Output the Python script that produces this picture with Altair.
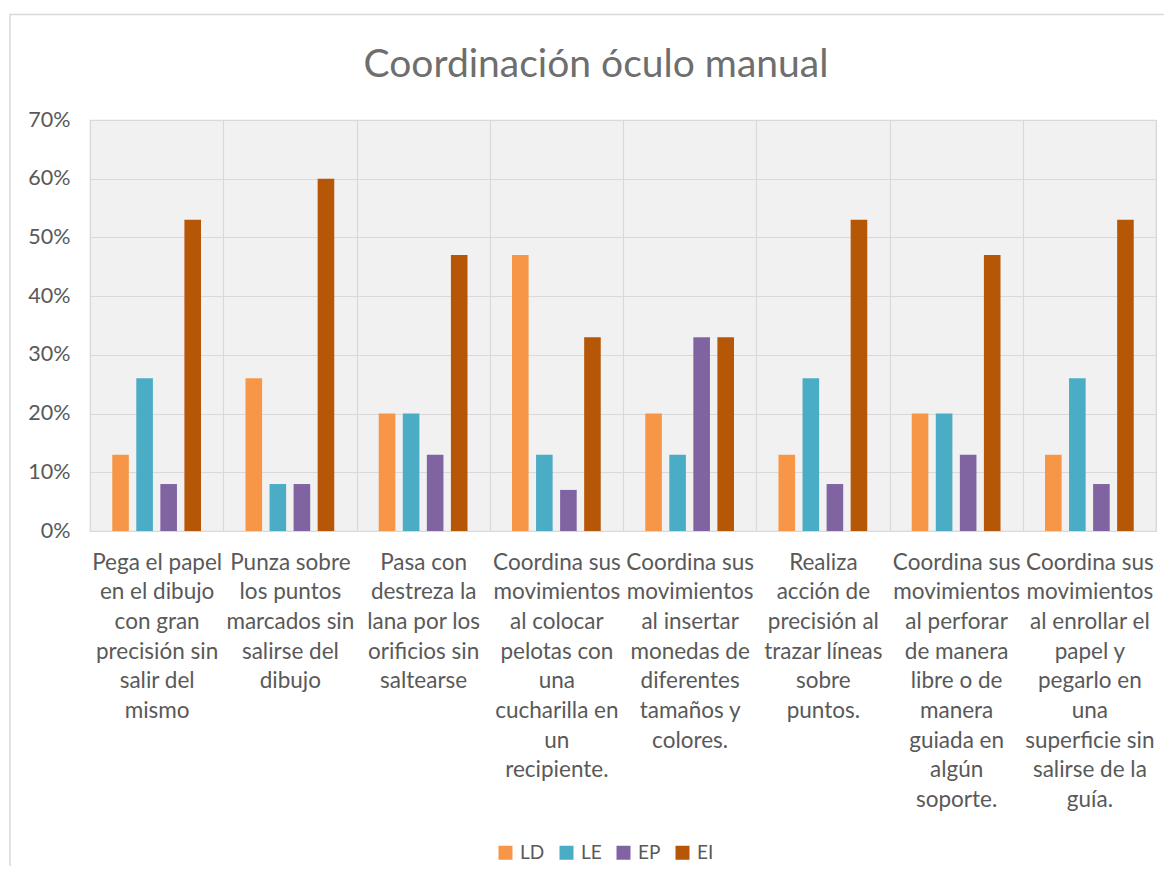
import altair as alt
import pandas as pd

categories = [
    "Pega el papel|en el dibujo|con gran|precisión sin|salir del|mismo",
    "Punza sobre|los puntos|marcados sin|salirse del|dibujo",
    "Pasa con|destreza la|lana por los|orificios sin|saltearse",
    "Coordina sus|movimientos|al colocar|pelotas con|una|cucharilla en|un|recipiente.",
    "Coordina sus|movimientos|al insertar|monedas de|diferentes|tamaños y|colores.",
    "Realiza|acción de|precisión al|trazar líneas|sobre|puntos.",
    "Coordina sus|movimientos|al perforar|de manera|libre o de|manera|guiada en|algún|soporte.",
    "Coordina sus|movimientos|al enrollar el|papel y|pegarlo en|una|superficie sin|salirse de la|guía.",
]
series_names = ["LD", "LE", "EP", "EI"]
LD = [0.13, 0.26, 0.20, 0.47, 0.20, 0.13, 0.20, 0.13]
LE = [0.26, 0.08, 0.20, 0.13, 0.13, 0.26, 0.20, 0.26]
EP = [0.08, 0.08, 0.13, 0.07, 0.33, 0.08, 0.13, 0.08]
EI = [0.53, 0.60, 0.47, 0.33, 0.33, 0.53, 0.47, 0.53]
colors = ["#F79646", "#4BACC6", "#8064A2", "#B65708"]
y_ticks = [0, 0.1, 0.2, 0.3, 0.4, 0.5, 0.6, 0.7]

rows = []
for name, vals in zip(series_names, [LD, LE, EP, EI]):
    for c, v in zip(categories, vals):
        rows.append({"categoria": c, "serie": name, "valor": v})
df = pd.DataFrame(rows)

FONT = "Lato"
TXT = "#595959"
GRID = "#d9d9d9"

bars = alt.Chart(df).mark_bar().encode(
    x=alt.X(
        "categoria:N",
        sort=categories,
        scale=alt.Scale(paddingInner=0, paddingOuter=0),
        axis=alt.Axis(
            title=None,
            labelAngle=0,
            labelExpr="split(datum.label, '|')",
            labelFont=FONT,
            labelFontSize=22.5,
            labelColor=TXT,
            labelLineHeight=29.7,
            labelPadding=20,
            labelBaseline="top",
            labelLimit=0,
            ticks=False,
            domain=False,
            grid=True,
            gridColor=GRID,
            gridWidth=1.2,
            tickBand="extent",
        ),
    ),
    xOffset=alt.XOffset(
        "serie:N",
        sort=series_names,
        scale=alt.Scale(paddingInner=0.31, paddingOuter=0.925),
    ),
    y=alt.Y(
        "valor:Q",
        scale=alt.Scale(domain=[0, 0.7], nice=False),
        axis=alt.Axis(
            title=None,
            format=".0%",
            values=y_ticks,
            labelFont=FONT,
            labelFontSize=21.5,
            labelColor=TXT,
            labelPadding=20,
            ticks=False,
            domain=False,
            grid=True,
            gridColor=GRID,
            gridWidth=1.2,
        ),
    ),
    color=alt.Color(
        "serie:N",
        sort=series_names,
        scale=alt.Scale(domain=series_names, range=colors),
        legend=alt.Legend(
            title=None,
            orient="none",
            direction="horizontal",
            legendX=406,
            legendY=723,
            symbolType="square",
            symbolSize=196,
            symbolStrokeWidth=0,
            symbolOpacity=1,
            labelFont=FONT,
            labelFontSize=19,
            labelColor=TXT,
            labelOffset=5,
            columnPadding=12,
        ),
    ),
)

frame = alt.Chart(alt.Data(values=[{"k": 1}])).mark_rect(
    filled=False, stroke=GRID, strokeWidth=1.5
).encode(
    x=alt.value(-80),
    x2=alt.value(1200),
    y=alt.value(-105.5),
    y2=alt.value(900),
)

chart = alt.layer(frame, bars).properties(
    width=1066,
    height=411,
    padding={"left": 82, "top": 112, "right": 8, "bottom": 335},
    autosize=alt.AutoSizeParams(type="none"),
    title=alt.TitleParams(
        "Coordinación óculo manual",
        font=FONT,
        fontSize=39,
        fontWeight="normal",
        color="#6e6e6e",
        anchor="middle",
        dx=-27,
        offset=-102,
        baseline="alphabetic",
    ),
    background="white",
).configure_view(
    fill="#f1f1f1",
    stroke=GRID,
    strokeWidth=1.2,
)

chart.save("out.html", embed_options={"renderer": "svg", "actions": False})
